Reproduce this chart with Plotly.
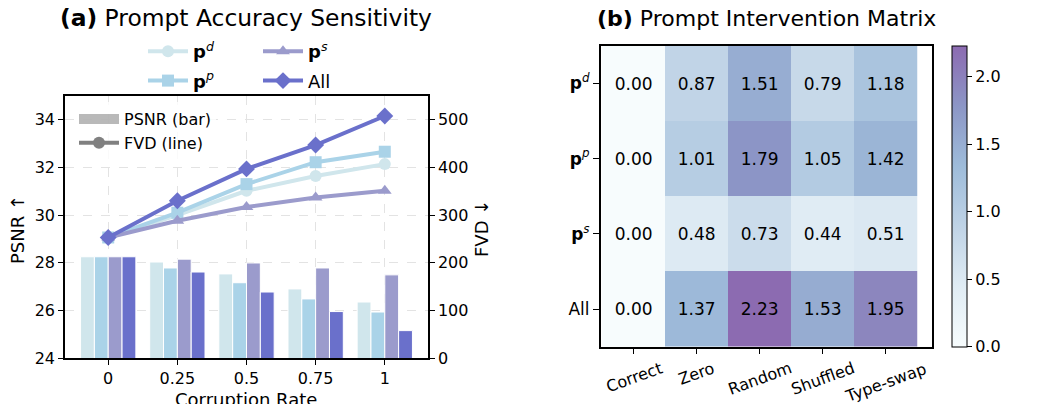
import plotly.graph_objects as go

# ---------------- data ----------------
rates = ["0", "0.25", "0.5", "0.75", "1"]
series_labels = ["<b>p</b><sup><i>d</i></sup>", "<b>p</b><sup><i>p</i></sup>",
                 "<b>p</b><sup><i>s</i></sup>", "All"]
psnr_pd = [28.25, 28.03, 27.53, 26.90, 26.35]
psnr_pp = [28.25, 27.78, 27.16, 26.48, 25.93]
psnr_ps = [28.25, 28.15, 27.99, 27.78, 27.49]
psnr_all = [28.25, 27.61, 26.77, 25.95, 25.15]
fvd_pd = [253, 300, 351, 382, 407]
fvd_pp = [253, 305, 365, 411, 433]
fvd_ps = [253, 288, 317, 337, 351]
fvd_all = [253, 330, 397, 447, 508]

interventions = ["Correct", "Zero", "Random", "Shuffled", "Type-swap"]
prompt_rows = ["<b>p</b><sup><i>d</i></sup>", "<b>p</b><sup><i>p</i></sup>",
               "<b>p</b><sup><i>s</i></sup>", "All"]
matrix = [
    [0.00, 0.87, 1.51, 0.79, 1.18],
    [0.00, 1.01, 1.79, 1.05, 1.42],
    [0.00, 0.48, 0.73, 0.44, 0.51],
    [0.00, 1.37, 2.23, 1.53, 1.95],
]

# ---------------- style ----------------
colors = ["#d0e6ec", "#aad3e8", "#9b9bcc", "#6a70cb"]
symbols = ["circle", "square", "triangle-up", "diamond"]
msizes = [12, 12, 12, 13]
FONT = "DejaVu Sans"
psnr = [psnr_pd, psnr_pp, psnr_ps, psnr_all]
fvd = [fvd_pd, fvd_pp, fvd_ps, fvd_all]
legend_of = ["legend", "legend", "legend3", "legend3"]
W, H = 1038, 404

fig = go.Figure()

for i in range(4):
    fig.add_trace(go.Bar(
        x=rates, y=psnr[i], xaxis="x", yaxis="y",
        marker=dict(color=colors[i], line=dict(color="white", width=1)),
        showlegend=False, hoverinfo="skip"))

for i in range(4):
    fig.add_trace(go.Scatter(
        x=rates, y=fvd[i], xaxis="x", yaxis="y2", mode="lines+markers",
        name=series_labels[i], legend=legend_of[i], legendgroup="g%d" % i,
        line=dict(color=colors[i], width=4),
        marker=dict(symbol=symbols[i], size=msizes[i], color=colors[i])))

# dummy legend traces (hidden axes)
fig.add_trace(go.Scatter(x=[None], y=[None], xaxis="x3", yaxis="y4", mode="lines",
                         name="PSNR (bar)", legend="legend2", legendgroup="d1",
                         line=dict(color="rgba(128,128,128,0.55)", width=13)))
fig.add_trace(go.Scatter(x=[None], y=[None], xaxis="x3", yaxis="y4",
                         mode="lines+markers", name="FVD (line)",
                         legend="legend2", legendgroup="d2",
                         line=dict(color="gray", width=4),
                         marker=dict(symbol="circle", size=12, color="gray")))

# heatmap
colorscale = [[0.0, "#f7fcfd"], [0.2, "#e0ecf4"], [0.4, "#bfd3e6"],
              [0.6, "#9ebcda"], [0.8, "#8c96c6"], [1.0, "#8c6bb1"]]
fig.add_trace(go.Heatmap(
    z=matrix, x=interventions, y=prompt_rows, xaxis="x2", yaxis="y3",
    colorscale=colorscale, zmin=0, zmax=2.23,
    texttemplate="%{z:.2f}", textfont=dict(size=17, color="black", family=FONT),
    showscale=True,
    colorbar=dict(x=952 / W, xanchor="left", y=(H - 196.2) / H, yanchor="middle",
                  len=301 / H, lenmode="fraction", thickness=15, thicknessmode="pixels",
                  outlinecolor="black", outlinewidth=1,
                  tickvals=[0, 0.5, 1.0, 1.5, 2.0], ticktext=["0.0", "0.5", "1.0", "1.5", "2.0"],
                  ticks="outside", ticklen=5, tickcolor="black",
                  tickfont=dict(size=16, family=FONT, color="black"), xpad=0, ypad=0),
    hoverinfo="skip"))

axis_common = dict(showline=True, linecolor="black", linewidth=1.5, ticks="outside",
                   ticklen=5, tickcolor="black", tickwidth=1.2,
                   tickfont=dict(size=16, family=FONT, color="black"), zeroline=False)

legend_font = dict(size=18, family=FONT, color="black")

annotations = [
    dict(text="<b>(a)</b> Prompt Accuracy Sensitivity", x=246 / W, y=1 - 18 / H,
         xref="paper", yref="paper", xanchor="center", yanchor="middle",
         showarrow=False, font=dict(size=23.4, family=FONT, color="black")),
    dict(text="<b>(b)</b> Prompt Intervention Matrix", x=766 / W, y=1 - 18 / H,
         xref="paper", yref="paper", xanchor="center", yanchor="middle",
         showarrow=False, font=dict(size=22, family=FONT, color="black")),
    dict(text="Corruption Rate", x=246 / W, y=1 - 387 / H, xref="paper", yref="paper",
         xanchor="center", yanchor="top", showarrow=False,
         font=dict(size=18, family=FONT, color="black")),
    dict(text="PSNR ↑", x=18 / W, y=1 - 229 / H, xref="paper", yref="paper",
         xanchor="center", yanchor="middle", textangle=-90, showarrow=False,
         font=dict(size=18, family=FONT, color="black")),
    dict(text="FVD ↓", x=482 / W, y=1 - 229 / H, xref="paper", yref="paper",
         xanchor="center", yanchor="middle", textangle=-90, showarrow=False,
         font=dict(size=18, family=FONT, color="black")),
]
for name in interventions:
    annotations.append(dict(text=name, x=name, xref="x2", y=1 - 356 / H, yref="paper",
                            xanchor="center", yanchor="top", textangle=-20,
                            showarrow=False,
                            font=dict(size=16, family=FONT, color="black")))

fig.update_layout(
    width=W, height=H,
    margin=dict(l=0, r=0, t=0, b=0, autoexpand=False),
    paper_bgcolor="white", plot_bgcolor="white",
    font=dict(family=FONT, color="black"),
    barmode="group", bargap=0.2, bargroupgap=0.0,
    xaxis=dict(domain=[65 / W, 428 / W], anchor="y", type="category",
               range=[-0.625, 4.625], mirror=True,
               showgrid=True, gridcolor="#e3e3e3", griddash="dash", gridwidth=1,
               **axis_common),
    yaxis=dict(domain=[(H - 358) / H, (H - 96) / H], anchor="x",
               range=[24, 35], tick0=24, dtick=2, mirror=False,
               showgrid=True, gridcolor="#e3e3e3", griddash="dash", gridwidth=1,
               **axis_common),
    yaxis2=dict(overlaying="y", side="right", anchor="x", range=[0, 550],
                tick0=0, dtick=100, showgrid=False, **axis_common),
    xaxis2=dict(domain=[600.7 / W, 931.7 / W], anchor="y3", mirror=True,
                showticklabels=False, showgrid=False,
                **{k: v for k, v in axis_common.items() if k != "ticklen"}, ticklen=6),
    yaxis3=dict(domain=[(H - 346.7) / H, (H - 45.7) / H], anchor="x2",
                autorange="reversed", mirror=True, showgrid=False,
                **{k: v for k, v in axis_common.items() if k not in ("tickfont", "ticklen")},
                ticklen=6, tickfont=dict(size=17, family=FONT, color="black")),
    xaxis3=dict(visible=False, domain=[0, 0.01], anchor="y4"),
    yaxis4=dict(visible=False, domain=[0, 0.01], anchor="x3"),
    legend=dict(x=143 / W, y=1 - 33 / H, xanchor="left", yanchor="top",
                orientation="v", font=legend_font, tracegroupgap=3,
                bgcolor="rgba(0,0,0,0)", itemwidth=40),
    legend3=dict(x=258 / W, y=1 - 33 / H, xanchor="left", yanchor="top",
                 orientation="v", font=legend_font, tracegroupgap=3,
                 bgcolor="rgba(0,0,0,0)", itemwidth=40),
    legend2=dict(x=74 / W, y=1 - 102 / H, xanchor="left", yanchor="top",
                 orientation="v", font=dict(size=16, family=FONT, color="black"),
                 tracegroupgap=0, bgcolor="rgba(255,255,255,0.8)", itemwidth=40),
    annotations=annotations,
)

fig.write_html("out.html", config={"displayModeBar": False},
               post_script="document.body.style.margin='0px';document.body.style.padding='0px';")
